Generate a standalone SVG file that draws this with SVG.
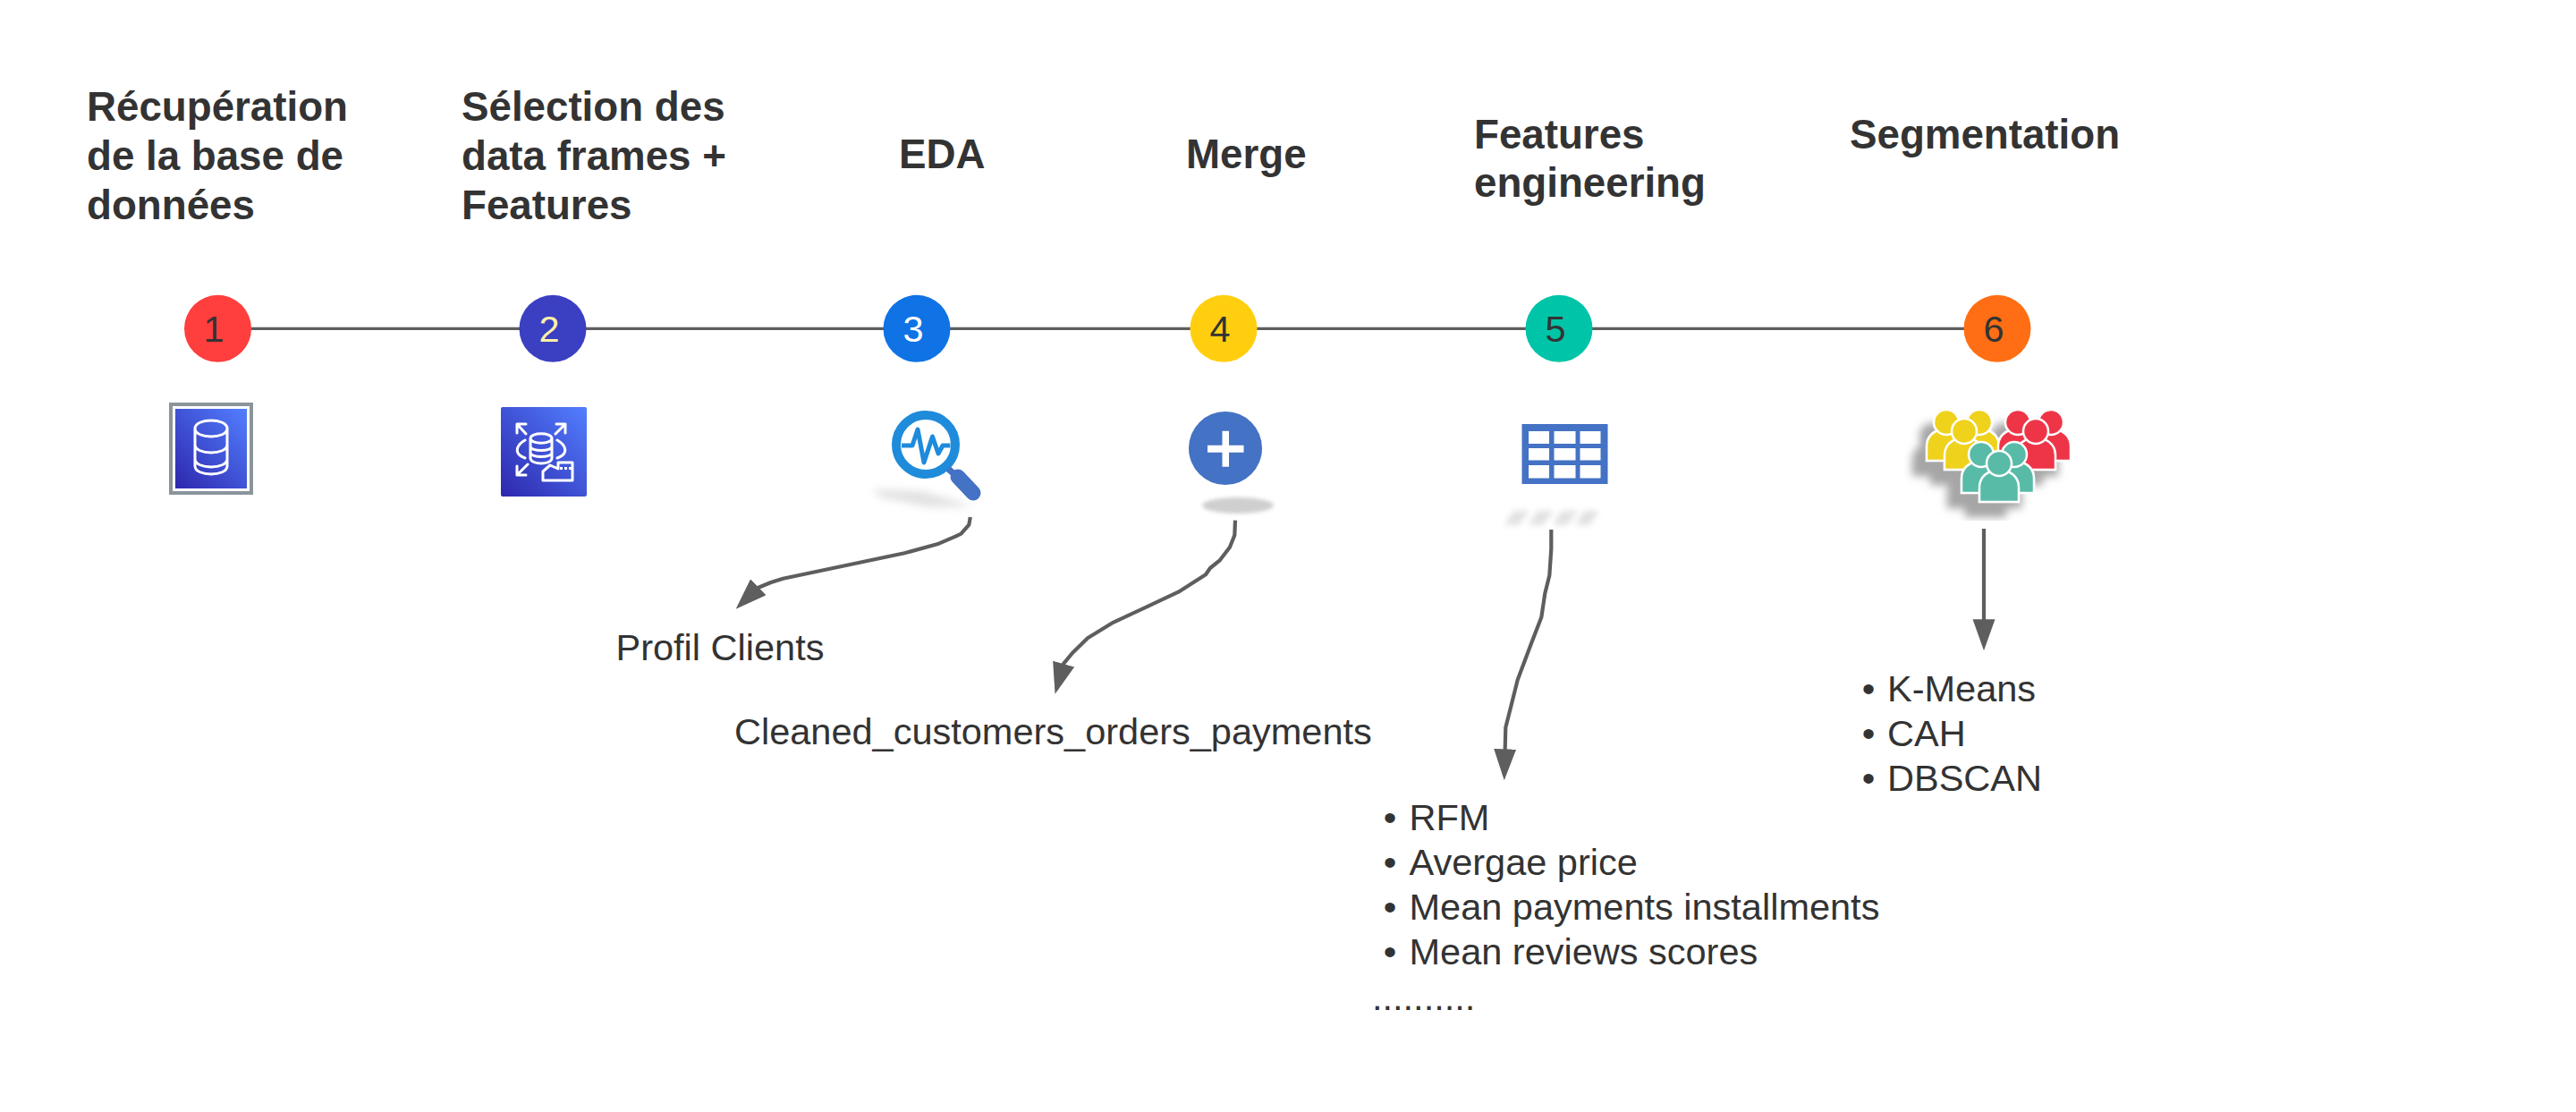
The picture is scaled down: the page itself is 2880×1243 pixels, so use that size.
<svg xmlns="http://www.w3.org/2000/svg" xmlns:xlink="http://www.w3.org/1999/xlink" width="2880" height="1243" viewBox="0 0 2880 1243">
<style>
text{font-family:"Liberation Sans",Arial,sans-serif;fill:#333}
.h{font-size:45.7px;font-weight:700}
.b{font-size:41.5px}
.n{font-size:41.5px;text-anchor:middle}
.c{fill:none;stroke:#5e5e5e;stroke-width:4.2;stroke-linejoin:round}
.m{stroke-width:3.3}
.w{fill:none;stroke:#fff;stroke-width:3;stroke-linecap:round;stroke-linejoin:round}
.a{fill:none;stroke:#fff;stroke-width:3}
.cell{fill:#fff}
</style>
<defs>
<linearGradient id="aws" x1="0" y1="1" x2="1" y2="0"><stop offset="0" stop-color="#2e27ad"/><stop offset="1" stop-color="#527fff"/></linearGradient>
<marker id="arr" markerUnits="userSpaceOnUse" markerWidth="40" markerHeight="28" refX="29" refY="12.500" orient="auto"><path d="M0 0L35 12.500L0 25Z" fill="#5e5e5e"/></marker>
<filter id="bl2" x="-30%" y="-60%" width="160%" height="220%"><feGaussianBlur stdDeviation="2"/></filter>
<filter id="bl3" x="-30%" y="-60%" width="160%" height="220%"><feGaussianBlur stdDeviation="3"/></filter>
<filter id="bl5" x="-30%" y="-60%" width="160%" height="220%"><feGaussianBlur stdDeviation="5"/></filter>
<filter id="ds" x="-20%" y="-20%" width="140%" height="140%"><feDropShadow dx="-15" dy="16" stdDeviation="5" flood-color="#888" flood-opacity=".75"/></filter>
<g id="person"><path d="M-22 43V27C-22 15-13 10-7 8H7C13 10 22 15 22 27V43Z" stroke="#fff" stroke-width="2.500"/><ellipse cx="0" cy="0" rx="14" ry="14" stroke="#fff" stroke-width="2.500"/></g>
<g id="trio"><use xlink:href="#person" href="#person" x="-20" y="-10"/><use xlink:href="#person" href="#person" x="17" y="-10"/><use xlink:href="#person" href="#person" x="0" y="0"/></g>
</defs>
<g id="connectors">
<line class="c m" x1="281" y1="367.300" x2="2196" y2="367.300"/>
<path class="c" marker-end="url(#arr)" d="M1084.800 578L1083.300 586.700L1074.500 596.700L1068.800 599.300L1049.600 607.700L1011.300 618.300L875.500 646.700L862 651L846.800 657.300L827 676.500"/>
<path class="c" marker-end="url(#arr)" d="M1381 581.700L1380.300 598.300L1374.900 611.700L1363.400 626.700L1353 635L1348 642.300L1317.500 661.700L1242.900 696.700L1216 713.300L1198.900 730L1189.300 741.700L1181.200 770"/>
<path class="c" marker-end="url(#arr)" d="M1734.300 592L1734.300 613.300L1732.300 643.300L1727.300 663.300L1723.300 690L1711.700 720L1696.700 760L1690 786.700L1683.300 813.300L1682.700 836.700L1681.900 866.300"/>
<path class="c" marker-end="url(#arr)" d="M2218 591V721.300"/>
</g>
<g id="node1">
<circle cx="243.500" cy="367.300" r="37.500" fill="#ff3e3e"/><text class="n" x="239" y="382">1</text>
<rect x="191" y="452" width="90" height="99" fill="#fff" stroke="#8a949b" stroke-width="4"/>
<rect x="196" y="457" width="80" height="89" fill="url(#aws)"/>
<path class="a" d="M218 480V522C218 534 254 534 254 522V480M218 480C218 468 254 468 254 480C254 492 218 492 218 480M218 498C218 510 254 510 254 498M218 514C218 526 254 526 254 514" transform="translate(0 -1)"/>
<text class="h" x="97" y="134.500">Récupération</text><text class="h" x="97" y="189.500">de la base de</text><text class="h" x="97" y="244.500">données</text>
</g>
<g id="node2">
<circle cx="618" cy="367.300" r="37.500" fill="#3b3fc1"/><text class="n" x="614" y="382" style="fill:#fdf0a8">2</text>
<rect x="560" y="455" width="96" height="100" rx="2" fill="url(#aws)"/>
<path class="w" d="M593 490V512C593 520 617 520 617 512V490M593 490C593 483 617 483 617 490C617 497 593 497 593 490M593 499C593 505 617 505 617 499M593 506C593 512 617 512 617 506"/>
<path class="w" d="M588 485L578 474M578 484V474H588M621 485L632 474M622 474H632V484M590 519L578 531M578 521V531H588M587 492C578 497 573 507 587 512M623 492C632 497 637 507 623 512M607 537V527L615 520L624 524V517H640V537Z"/>
<path d="M626 522h3v3h-3zM631 522h3v3h-3zM636 522h3v3h-3z" fill="#fff"/>
<text class="h" x="516" y="134.500">Sélection des</text><text class="h" x="516" y="189.500">data frames +</text><text class="h" x="516" y="244.500">Features</text>
</g>
<g id="node3">
<circle cx="1025" cy="367.300" r="37.500" fill="#0f72e5"/><text class="n" x="1021" y="382" style="fill:#fff">3</text>
<path d="M975 547L1030 549L1090 566L1040 567L985 556Z" fill="#c4c4c4" opacity=".5" filter="url(#bl5)"/>
<circle cx="1035" cy="497" r="33" fill="#fff" stroke="#1f8bdb" stroke-width="10"/>
<path d="M1008 498H1020L1026 480L1033 517L1042.500 488L1049 507L1054 498H1062.500" fill="none" stroke="#1f8bdb" stroke-width="5" stroke-linejoin="round"/>
<path d="M1060 524L1068 531" stroke="#4472c4" stroke-width="7"/>
<path d="M1071 533L1088 551" stroke="#4472c4" stroke-width="17" stroke-linecap="round"/>
<text class="h" x="1005" y="187.500">EDA</text>
</g>
<g id="node4">
<circle cx="1368" cy="367.300" r="37.500" fill="#ffcf0f"/><text class="n" x="1364" y="382">4</text>
<ellipse cx="1384" cy="565" rx="40" ry="9" fill="#cfcfcf" filter="url(#bl2)"/>
<circle cx="1370" cy="501" r="41" fill="#4472c4"/>
<path d="M1366.500 481.700h7.500v16h16.500v8h-16.500v16h-7.500v-16h-16.500v-8h16.500z" fill="#fff"/>
<text class="h" x="1326" y="187.500">Merge</text>
</g>
<g id="node5">
<circle cx="1743" cy="367.300" r="37.500" fill="#00c4a8"/><text class="n" x="1739" y="382">5</text>
<g fill="#e2e2e2" filter="url(#bl3)"><path d="M1692 571H1710L1698 587H1682Z"/><path d="M1719 571H1737L1725 587H1709Z"/><path d="M1746 571H1764L1752 587H1736Z"/><path d="M1771 571H1788L1777 587H1761Z"/></g>
<rect x="1701.500" y="474" width="96" height="67" fill="#4472c4"/>
<g class="cell"><rect x="1709" y="482" width="23" height="14"/><rect x="1737.500" y="482" width="24" height="14"/><rect x="1766.500" y="482" width="23" height="14"/><rect x="1709" y="501" width="23" height="13.500"/><rect x="1737.500" y="501" width="24" height="13.500"/><rect x="1766.500" y="501" width="23" height="13.500"/><rect x="1709" y="520" width="23" height="14.500"/><rect x="1737.500" y="520" width="24" height="14.500"/><rect x="1766.500" y="520" width="23" height="14.500"/></g>
<text class="h" x="1648" y="165.500">Features</text><text class="h" x="1648" y="220">engineering</text>
</g>
<g id="node6">
<circle cx="2233" cy="367.300" r="37.500" fill="#ff6e14"/><text class="n" x="2229" y="382">6</text>
<g filter="url(#ds)">
<use xlink:href="#trio" href="#trio" x="2196" y="482" fill="#efd21b"/>
<use xlink:href="#trio" href="#trio" x="2276" y="482" fill="#ee3547"/>
<use xlink:href="#trio" href="#trio" x="2235" y="518" fill="#58bba8"/>
</g>
<text class="h" x="2068" y="165.500">Segmentation</text>
</g>
<g id="label-profil"><text class="b" x="688.500" y="738">Profil Clients</text></g>
<g id="label-cleaned"><text class="b" x="821" y="832">Cleaned_customers_orders_payments</text></g>
<g id="label-features">
<text class="b" y="928"><tspan x="1546.700">•</tspan><tspan x="1575.500">RFM</tspan></text>
<text class="b" y="978"><tspan x="1546.700">•</tspan><tspan x="1575.500">Avergae price</tspan></text>
<text class="b" y="1028"><tspan x="1546.700">•</tspan><tspan x="1575.500">Mean payments installments</tspan></text>
<text class="b" y="1078"><tspan x="1546.700">•</tspan><tspan x="1575.500">Mean reviews scores</tspan></text>
<text class="b" x="1534" y="1129">..........</text>
</g>
<g id="label-seg">
<text class="b" y="784"><tspan x="2081.700">•</tspan><tspan x="2110">K-Means</tspan></text>
<text class="b" y="834"><tspan x="2081.700">•</tspan><tspan x="2110">CAH</tspan></text>
<text class="b" y="884"><tspan x="2081.700">•</tspan><tspan x="2110">DBSCAN</tspan></text>
</g>
</svg>
